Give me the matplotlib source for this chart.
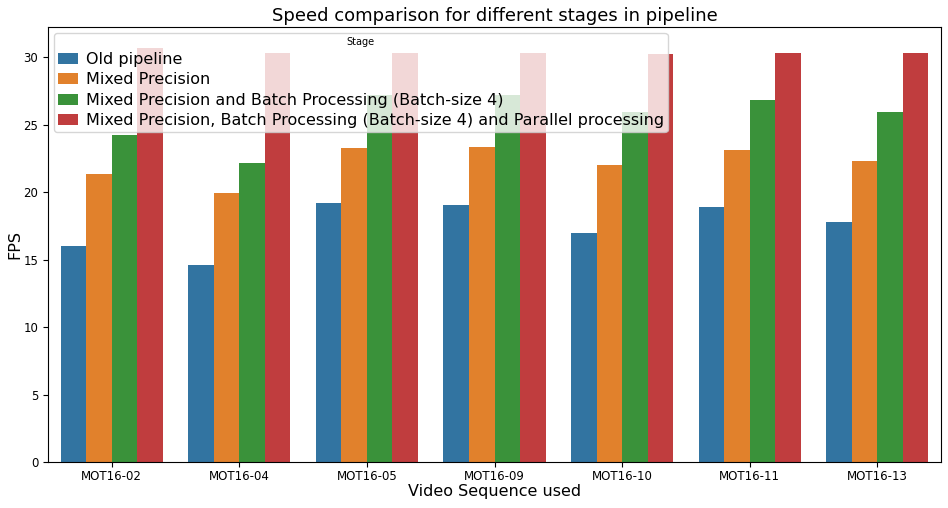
#!/usr/bin/env python3
"""
Speed comparison bar chart for pipeline stages
"""

import pandas as pd
import seaborn as sns
import matplotlib
matplotlib.use("Agg")
import matplotlib.pyplot as plt

sequences = ["MOT16-02", "MOT16-04", "MOT16-05", "MOT16-09",
             "MOT16-10", "MOT16-11", "MOT16-13"]
stages = [
    "Old pipeline",
    "Mixed Precision",
    "Mixed Precision and Batch Processing (Batch-size 4)",
    "Mixed Precision, Batch Processing (Batch-size 4) and Parallel processing",
]
fps_old = [16.0, 14.6, 19.2, 19.06, 16.99, 18.91, 17.8]
fps_mixed = [21.3, 19.95, 23.28, 23.36, 22.02, 23.13, 22.32]
fps_batch = [24.24, 22.17, 27.2, 27.2, 25.95, 26.84, 25.95]
fps_parallel = [30.69, 30.32, 30.32, 30.32, 30.24, 30.32, 30.32]


def main():
    """
    build the chart
    """
    rows = []
    for stage, vals in zip(stages, [fps_old, fps_mixed, fps_batch, fps_parallel]):
        for seq, v in zip(sequences, vals):
            rows.append({"Video": seq, "FPS": v, "Stage": stage})
    df = pd.DataFrame(rows)

    fig = plt.figure(figsize=(9.48, 5.08), dpi=100)
    ax = fig.add_axes([48 / 948, 1 - 462 / 508, 893 / 948, 435 / 508])
    sns.barplot(data=df, x="Video", y="FPS", hue="Stage", ax=ax,
                errorbar=None, saturation=0.75)

    ax.set_title("Speed comparison for different stages in pipeline",
                 fontsize=13, pad=4.5)
    ax.set_xlabel("Video Sequence used", fontsize=11.5, labelpad=0.5)
    ax.set_ylabel("FPS", fontsize=11.5, labelpad=0.5)
    ax.tick_params(labelsize=8.5)
    ax.tick_params(axis="x", pad=2.5)
    ax.legend(title="Stage", loc="upper left", fontsize=11.5,
              title_fontsize=7, borderaxespad=0.35, handlelength=1.25,
              handletextpad=0.5, labelspacing=0.34, borderpad=0.25)

    fig.savefig("out.png", dpi=100)


if __name__ == "__main__":
    main()
